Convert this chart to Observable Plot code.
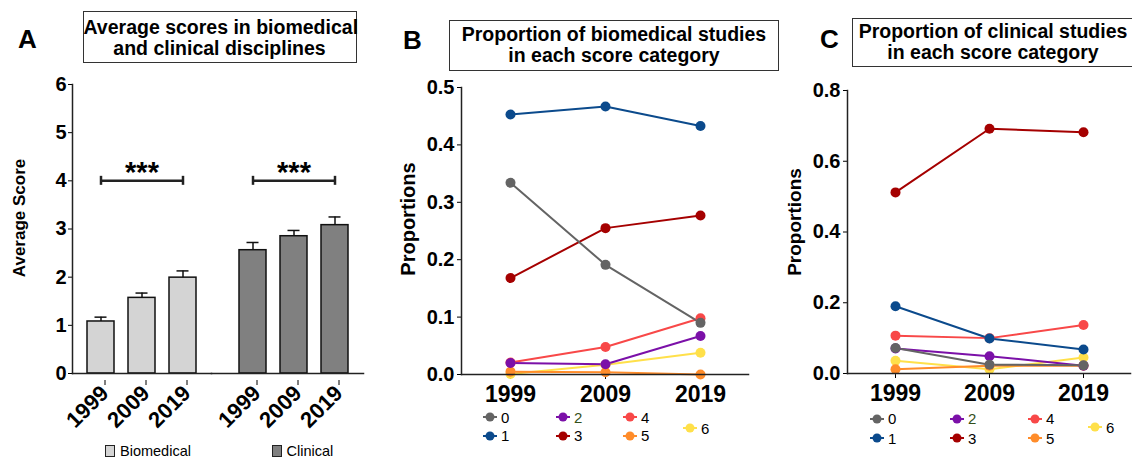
<!DOCTYPE html>
<html><head><meta charset="utf-8">
<script src="https://cdn.jsdelivr.net/npm/d3@7"></script>
<script src="https://cdn.jsdelivr.net/npm/@observablehq/plot@0.6"></script>
<style>
body{margin:0;background:#fff;}
#root{position:relative;width:1132px;height:459px;overflow:hidden;font-family:"Liberation Sans",Arial,sans-serif;color:#000;background:#fff;}
.letter{position:absolute;font-size:26px;font-weight:bold;line-height:1;}
.title{position:absolute;border:1.5px solid #333;box-sizing:border-box;text-align:center;font-size:19.5px;font-weight:bold;line-height:21px;white-space:nowrap;background:#fff;}
.ylab{position:absolute;font-weight:bold;line-height:1;white-space:nowrap;transform:translate(-50%,-50%) rotate(-90deg);}
.leg{position:absolute;font-size:15px;line-height:1;white-space:nowrap;display:flex;align-items:center;height:16px;}
.leg svg{display:block;margin-right:4px;}
.plot-holder{position:absolute;}
.plot-holder svg{overflow:visible;display:block;}
</style></head><body><div id="root"></div>
<script>
// ---------- data ----------
const years = ["1999", "2009", "2019"];
const groups = ["Biomedical", "Clinical"];
const groupColors = ["#d4d4d4", "#808080"];
const avgBiomedical = [1.08, 1.57, 1.99];
const errBiomedical = [0.09, 0.10, 0.14];
const avgClinical = [2.56, 2.85, 3.08];
const errClinical = [0.16, 0.12, 0.17];
const sigLabel = "***";
const sigLevel = 4;
const scoreTicks = [0, 1, 2, 3, 4, 5, 6];

const categories = ["0", "1", "2", "3", "4", "5", "6"];
const categoryColors = ["#646464", "#0b4a8c", "#7b10a8", "#a50000", "#f84848", "#ff8c2a", "#ffe04a"];
const legendTextColors = ["#000", "#000", "#33501a", "#000", "#000", "#000", "#000"];
// proportions per category (rows) and year (columns)
const biomedicalProportions = [
  [0.334, 0.191, 0.090],
  [0.453, 0.467, 0.433],
  [0.020, 0.018, 0.067],
  [0.168, 0.255, 0.277],
  [0.021, 0.048, 0.098],
  [0.005, 0.004, 0.000],
  [0.001, 0.017, 0.038]
];
const clinicalProportions = [
  [0.072, 0.025, 0.023],
  [0.190, 0.099, 0.068],
  [0.071, 0.049, 0.022],
  [0.512, 0.692, 0.682],
  [0.107, 0.100, 0.137],
  [0.012, 0.022, 0.022],
  [0.036, 0.012, 0.045]
];
const biomedicalTicks = [0, 0.1, 0.2, 0.3, 0.4, 0.5];
const clinicalTicks = [0, 0.2, 0.4, 0.6, 0.8];

// ---------- helpers ----------
const FONT = '"Liberation Sans", Arial, sans-serif';
const root = document.getElementById("root");
function place(el, left, top) {
  const d = document.createElement("div");
  d.className = "plot-holder";
  d.style.left = left + "px"; d.style.top = top + "px";
  d.appendChild(el); root.appendChild(d);
}
function html(cls, text, style) {
  const d = document.createElement("div");
  d.className = cls; d.innerHTML = text;
  Object.assign(d.style, style); root.appendChild(d); return d;
}

// ---------- Panel A ----------
function barRows(avg, err, g) {
  return years.map((y, i) => ({year: y, value: avg[i], err: err[i], group: g}));
}
const sigRows = [{from: years[0], mid: years[1], to: years[2], y: sigLevel, label: sigLabel}];
const sigEnds = [{year: years[0], y: sigLevel}, {year: years[2], y: sigLevel}];

function panelA(rows, color, opts) {
  const marks = [
    Plot.barY(rows, {x: "year", y: "value", fill: color, stroke: "#111", strokeWidth: 1.5}),
    Plot.ruleX(rows, {x: "year", y1: "value", y2: d => d.value + d.err, stroke: "#111", strokeWidth: 1.5}),
    Plot.tickY(rows, {x: "year", y: d => d.value + d.err, stroke: "#111", strokeWidth: 1.5, insetLeft: 7.5, insetRight: 7.5}),
    Plot.link(sigRows, {x1: "from", x2: "to", y1: "y", y2: "y", stroke: "#222", strokeWidth: 2.5}),
    Plot.ruleX(sigEnds, {x: "year", y1: "y", y2: "y", stroke: "#222", strokeWidth: 2.5, insetTop: -4.5, insetBottom: -4.5}),
    Plot.text(sigRows, {x: "mid", y: "y", text: "label", fontSize: 29, fontWeight: "bold", lineAnchor: "bottom", dy: 1}),
    Plot.axisX({tickRotate: -45, fontSize: 22, fontWeight: "bold", tickSize: 5, tickPadding: 4, dx: 4, dy: 7, label: null}),
    Plot.frame({anchor: "bottom", stroke: "#222", strokeWidth: 1.5})
  ];
  if (opts.yAxis) {
    marks.push(Plot.axisY({ticks: scoreTicks, tickFormat: "d", tickSize: 4, tickPadding: 2, fontSize: 20, fontWeight: "bold", label: null}));
    marks.push(Plot.frame({anchor: "left", stroke: "#222", strokeWidth: 1.5}));
  }
  return Plot.plot({
    width: opts.width, height: 380,
    marginLeft: opts.ml, marginRight: opts.mr, marginTop: 20, marginBottom: 71,
    x: {domain: years, padding: 0.35, insetLeft: opts.inset || 0, axis: null},
    y: {domain: [0, 6], axis: null},
    style: {fontFamily: FONT, background: "transparent", color: "#000"},
    marks
  });
}
place(panelA(barRows(avgBiomedical, errBiomedical, groups[0]), groupColors[0], {width: 211, ml: 72, mr: 0, yAxis: true}), 0, 64);
place(panelA(barRows(avgClinical, errClinical, groups[1]), groupColors[1], {width: 159, ml: 0, mr: 7, inset: 13, yAxis: false}), 211, 64);

// ---------- Panels B & C ----------
function tidy(props) {
  const out = [];
  for (let i = categories.length - 1; i >= 0; i--)
    years.forEach((y, j) => out.push({category: categories[i], year: y, value: props[i][j]}));
  return out;
}
function panelLine(props, ticks, opts) {
  const data = tidy(props);
  return Plot.plot({
    width: opts.width, height: 350,
    marginLeft: opts.ml, marginRight: opts.mr, marginTop: opts.mt, marginBottom: opts.mb,
    x: {type: "point", domain: years, padding: 0.5, axis: null},
    y: {domain: [ticks[0], ticks[ticks.length - 1]], axis: null},
    color: {domain: categories, range: categoryColors},
    style: {fontFamily: FONT, background: "transparent", color: "#000"},
    marks: [
      Plot.axisY({ticks, tickFormat: ".1f", tickSize: 4, tickPadding: 3, fontSize: 20, fontWeight: "bold", label: null}),
      Plot.axisX({tickSize: 5, tickPadding: 6, fontSize: 23, fontWeight: "bold", label: null}),
      Plot.line(data, {x: "year", y: "value", z: "category", stroke: "category", strokeWidth: 2}),
      Plot.dot(data, {x: "year", y: "value", fill: "category", r: 5}),
      Plot.frame({anchor: "left", stroke: "#222", strokeWidth: 1.5}),
      Plot.frame({anchor: "bottom", stroke: "#222", strokeWidth: 1.5})
    ]
  });
}
place(panelLine(biomedicalProportions, biomedicalTicks, {width: 380, ml: 81, mr: 12, mt: 23, mb: 40}), 380, 64);
place(panelLine(clinicalProportions, clinicalTicks, {width: 362, ml: 77, mr: 2, mt: 26, mb: 41}), 770, 64);

// ---------- Text, titles, legends ----------
html("letter", "A", {left: "18px", top: "26px"});
html("letter", "B", {left: "403px", top: "27px"});
html("letter", "C", {left: "820px", top: "26px"});

html("title", "Average scores in biomedical<br>and clinical disciplines",
  {left: "82.5px", top: "10.5px", width: "274px", height: "52.5px", paddingTop: "5.5px"});
html("title", "Proportion of biomedical studies<br>in each score category",
  {left: "449px", top: "20px", width: "330px", height: "51px", paddingTop: "2.5px"});
html("title", "Proportion of clinical studies<br>in each score category",
  {left: "852px", top: "18px", width: "282px", height: "49px", paddingTop: "1.5px"});

html("ylab", "Average Score", {left: "18.5px", top: "218px", fontSize: "17px"});
html("ylab", "Proportions", {left: "407.5px", top: "219px", fontSize: "20px"});
html("ylab", "Proportions", {left: "794px", top: "221.5px", fontSize: "19px"});

// Panel A legend
[[105, groups[0], groupColors[0]], [271.5, groups[1], groupColors[1]]].forEach(([x, name, col]) => {
  html("leg", `<span style="display:inline-block;width:10px;height:12px;box-sizing:border-box;border:1px solid #222;background:${col};margin-right:5px"></span><span style="font-size:14.5px">${name}</span>`,
    {left: x + "px", top: "443px"});
});

// Panels B & C legends (grid layout: 3 columns x 2 rows, last item to the right)
function legend(colX, rowY, lastXY) {
  categories.forEach((c, i) => {
    const [mx, my] = i < 6 ? [colX[Math.floor(i / 2)], rowY[i % 2]] : lastXY;
    const col = categoryColors[i];
    html("leg", `<svg width="14" height="10"><line x1="0" y1="5" x2="14" y2="5" stroke="${col}" stroke-width="2"/><circle cx="7" cy="5" r="4.5" fill="${col}"/></svg><span style="color:${legendTextColors[i]}">${c}</span>`,
      {left: (mx - 7) + "px", top: (my - 8) + "px"});
  });
}
legend([490, 563, 630], [417, 435.5], [690, 428]);
legend([877, 957, 1035], [418.5, 438], [1095, 427]);
</script>
</body></html>
